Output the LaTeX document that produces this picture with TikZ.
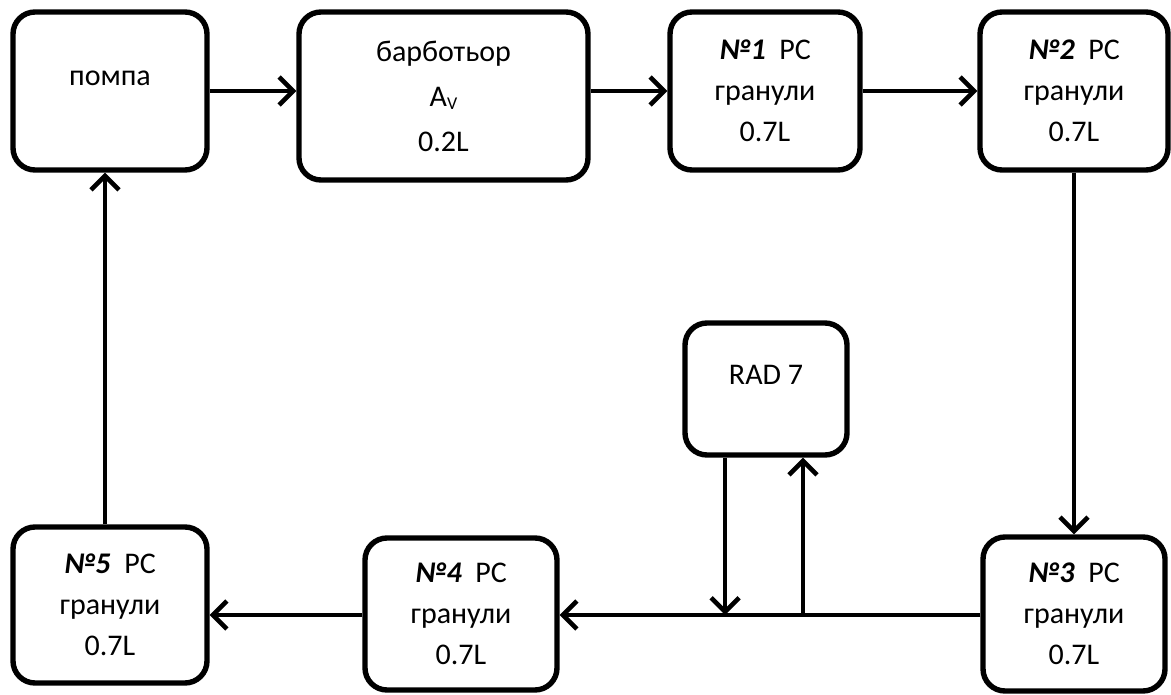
\documentclass[tikz,border=0pt]{standalone}
\usepackage{fontspec}
\setmainfont{Carlito}
\usetikzlibrary{arrows.meta}
\tikzset{
  box/.style={draw=black, line width=2.7pt, rounded corners=11pt, fill=white,
    align=center, inner sep=0pt, font=\fontsize{15}{20.5}\selectfont},
  txt/.style={inner sep=0pt, font=\fontsize{15}{20.5}\selectfont},
  flow/.style={line width=2.3pt, -{Straight Barb[length=7pt,width=14pt,line width=2.3pt]}},
}
\newcommand{\nr}[1]{\textbf{\textit{№#1}}\ \ PC\\гранули\\0.7L}
\begin{document}
\begin{tikzpicture}[x=0.5pt,y=-0.5pt]
\useasboundingbox (0,0) rectangle (1171,695);
% boxes
\node[box, minimum width=97pt, minimum height=79pt] (pompa) at (110,91) {};
\node[txt] (pompaT) at (110,78) {помпа};
\node[box, minimum width=144.5pt, minimum height=84pt] (barb) at (443.5,96)
  {барботьор\\[2pt]A{\fontsize{9}{9}\selectfont\raisebox{-1.5pt}{V}}\\[2pt]0.2L};
\node[box, minimum width=95pt, minimum height=79pt] (n1) at (765,91) {\nr{1}};
\node[box, minimum width=94pt, minimum height=79pt] (n2) at (1074,91) {\nr{2}};
\node[box, minimum width=91pt, minimum height=77pt] (n3) at (1074,614) {\nr{3}};
\node[box, minimum width=96pt, minimum height=76pt] (n4) at (461,614) {\nr{4}};
\node[box, minimum width=97pt, minimum height=78pt] (n5) at (110,605) {\nr{5}};
\node[box, minimum width=81pt, minimum height=66pt] (rad) at (766,389) {};
\node[txt] (radT) at (766,375) {RAD 7};
% junction points on the bottom line
\coordinate (j1) at (725,615);
\coordinate (j2) at (803,615);
\coordinate (up5) at (105,615);
% connectors
\draw[flow] (pompa.east) -- (pompa.east -| barb.west);
\draw[flow] (n1.west -| barb.east) -- (n1.west);
\draw[flow] (n1.east) -- (n2.west);
\draw[flow] (n2.south) -- (n3.north);
\draw[flow] (n3.west |- j1) -- (n4.east |- j1);
\draw[flow] (n4.west |- j1) -- (n5.east |- j1);
\draw[flow] (n5.north -| up5) -- (pompa.south -| up5);
\draw[flow] (rad.south -| j1) -- (j1);
\draw[flow] (j2) -- (rad.south -| j2);
\end{tikzpicture}
\end{document}
